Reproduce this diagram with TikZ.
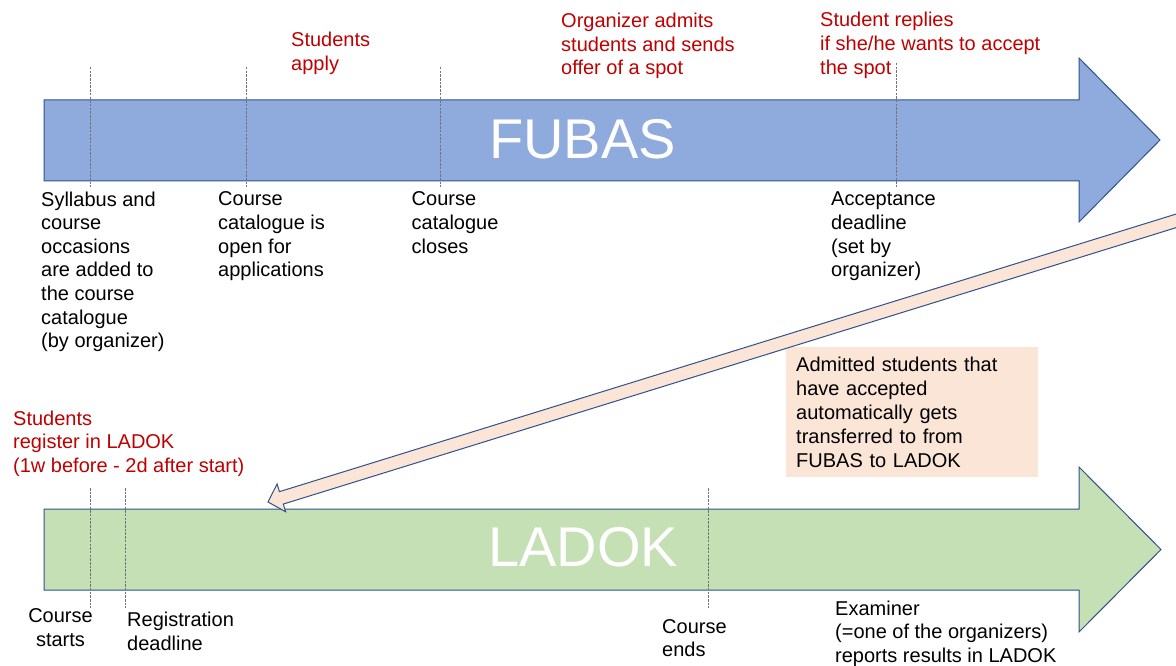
\documentclass[tikz,border=0pt]{standalone}
\usepackage{fontspec}
\setmainfont{Liberation Sans}
\usetikzlibrary{calc}
\definecolor{fubasfill}{HTML}{8FAADC}
\definecolor{ladokfill}{HTML}{C5E0B4}
\definecolor{edgeblue}{HTML}{2F528F}
\definecolor{salmon}{HTML}{FBE5D6}
\definecolor{redtxt}{HTML}{C00000}
\begin{document}
\begin{tikzpicture}[x=1pt,y=-1pt,
  lbl/.style={font=\fontsize{20}{23.6}\selectfont, align=left, inner sep=0pt, anchor=base west},
  redlbl/.style={lbl, text=redtxt},
  tickline/.style={draw=black!55, line width=0.8pt, dash pattern=on 2.5pt off 1.2pt},
  bigarrow/.style={draw=edgeblue, line width=1pt, line join=miter},
  sysname/.style={font=\fontsize{56}{60}\selectfont, text=white, inner sep=0pt},
  infobox/.style={fill=salmon, font=\fontsize{20}{24}\selectfont, align=left, text width=232pt, inner xsep=10pt, inner ysep=9.5pt, anchor=north west}]
\useasboundingbox (0,0) rectangle (1176,666);
\fill[white] (0,0) rectangle (1176,666);
\begin{scope}
\clip (0,0) rectangle (1176,666);
% FUBAS arrow
\draw[bigarrow, fill=fubasfill] (44,100) -- (1079,100) -- (1079,58) -- (1160,140) -- (1079,222) -- (1079,181) -- (44,181) -- cycle;
% LADOK arrow
\draw[bigarrow, fill=ladokfill] (44,509) -- (1079,509) -- (1079,467) -- (1161,549.5) -- (1079,632) -- (1079,590) -- (44,590) -- cycle;
\node[sysname] (fubas) at (582.5,139.5) {FUBAS};
\node[sysname] (ladok) at (583,547.5) {LADOK};
% dashed markers
\coordinate (f1a) at (90,67);  \coordinate (f1b) at (90,187);
\coordinate (f2a) at (246,67); \coordinate (f2b) at (246,187);
\coordinate (f3a) at (440,67); \coordinate (f3b) at (440,187);
\coordinate (f4a) at (896,63); \coordinate (f4b) at (896,187);
\coordinate (l1a) at (90,488);  \coordinate (l1b) at (90,608);
\coordinate (l2a) at (125,488); \coordinate (l2b) at (125,608);
\coordinate (l3a) at (708,488); \coordinate (l3b) at (708,608);
\foreach \m in {f1,f2,f3,f4,l1,l2,l3} \draw[tickline] (\m a) -- (\m b);
% info box
\node[infobox] (box) at (786,347) {Admitted students that\\have accepted\\automatically gets\\transferred to from\\FUBAS to LADOK};
% transfer arrow
\coordinate (tip) at (268,502);
\coordinate (tail) at (1195,215);
\coordinate (hb) at ($(tip)!14pt!(tail)$);
\draw[bigarrow, fill=salmon] (tip) -- ($(hb)!14.5pt!90:(tail)$) -- ($(hb)!6.5pt!90:(tail)$) -- ($(tail)!6.5pt!-90:(hb)$) -- ($(tail)!6.5pt!90:(hb)$) -- ($(hb)!6.5pt!-90:(tail)$) -- ($(hb)!14.5pt!-90:(tail)$) -- cycle;
\end{scope}
% labels (anchored at the baseline of their last line)
\node[redlbl] (apply) at (291,70.1) {Students\\apply};
\node[redlbl] (admit) at (561,74.7) {Organizer admits\\students and sends\\offer of a spot};
\node[redlbl] (reply) at (820,74.2) {Student replies\\if she/he wants to accept\\the spot};
\node[lbl] (syl) at (41,347.6) {Syllabus and\\course\\occasions\\are added to\\the course\\catalogue\\(by organizer)};
\node[lbl] (open) at (218,276.8) {Course\\catalogue is\\open for\\applications};
\node[lbl] (close) at (411.5,253.2) {Course\\catalogue\\closes};
\node[lbl] (accept) at (831,276.8) {Acceptance\\deadline\\(set by\\organizer)};
\node[redlbl] (reg) at (13,472.2) {Students\\register in LADOK\\(1w before - 2d after start)};
\node[lbl, align=center, anchor=base] (start) at (60.5,646.3) {Course\\starts};
\node[lbl] (regdl) at (127,650.3) {Registration\\deadline};
\node[lbl] (ends) at (662,656.9) {Course\\ends};
\node[lbl] (exam) at (835,662.2) {Examiner\\(=one of the organizers)\\reports results in LADOK};
\end{tikzpicture}
\end{document}
